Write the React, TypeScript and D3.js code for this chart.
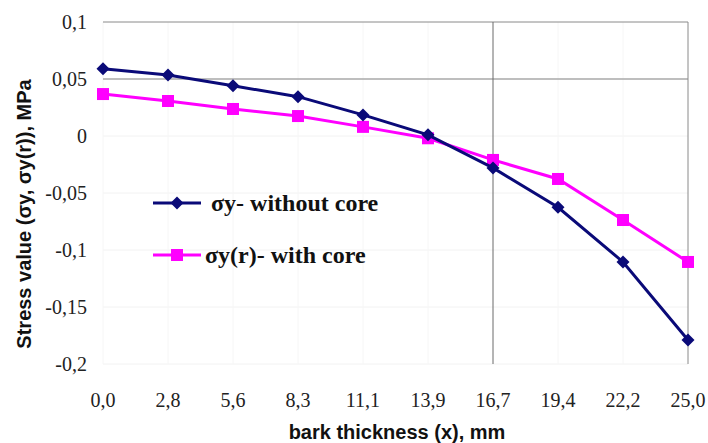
import React from "react";
import * as d3 from "d3";

const categories = ["0,0", "2,8", "5,6", "8,3", "11,1", "13,9", "16,7", "19,4", "22,2", "25,0"];
const withoutCore = [0.059, 0.0535, 0.044, 0.0345, 0.0185, 0.001, -0.028, -0.0625, -0.1105, -0.179];
const withCore = [0.0368, 0.0307, 0.0237, 0.0175, 0.008, -0.002, -0.021, -0.0377, -0.0737, -0.1105];
const yTicks = [0.1, 0.05, 0, -0.05, -0.1, -0.15, -0.2];
const yTickLabels = ["0,1", "0,05", "0", "-0,05", "-0,1", "-0,15", "-0,2"];
const seriesNames = ["σy- without core", "σy(r)- with core"];

const W = 708, H = 443;
const left = 103, right = 688, top = 22, bottom = 364;

export default function App() {
  const x = d3.scalePoint<string>().domain(categories).range([left, right]);
  const y = d3.scaleLinear().domain([-0.2, 0.1]).range([bottom, top]);
  const line = d3.line<number>().x((_, i) => x(categories[i])!).y((d) => y(d));
  const diamond = "M0,-6.5L6.5,0L0,6.5L-6.5,0Z";
  const navy = "#0a0a78";
  const magenta = "#ff00ff";
  const serif = "'Liberation Serif', 'Times New Roman', serif";
  const sans = "'Liberation Sans', Arial, sans-serif";

  return (
    <svg width={W} height={H} style={{ position: "absolute", left: 0, top: 0, background: "#fff" }}>
      {/* faint gridlines */}
      {yTicks.filter((t) => t < 0.05).map((t) => (
        <line key={"fg" + t} x1={left} x2={right} y1={y(t)} y2={y(t)} stroke="#f2f2f2" strokeWidth={1} />
      ))}
      {categories.filter((c) => c !== "16,7" && c !== "25,0").map((c) => (
        <line key={"fv" + c} x1={x(c)} x2={x(c)} y1={top} y2={bottom} stroke="#f6f6f6" strokeWidth={1} />
      ))}
      {/* main gridlines */}
      <line x1={left} x2={right} y1={y(0.1)} y2={y(0.1)} stroke="#8a8a8a" strokeWidth={1} />
      <line x1={left} x2={right} y1={y(0.05)} y2={y(0.05)} stroke="#a8a8a8" strokeWidth={1.5} />
      <line x1={x("16,7")} x2={x("16,7")} y1={top} y2={bottom} stroke="#6a6a6a" strokeWidth={1} />
      <line x1={x("25,0")} x2={x("25,0")} y1={top} y2={bottom} stroke="#8a8a8a" strokeWidth={1} />

      {/* y tick labels */}
      {yTicks.map((t, i) => (
        <text key={"yt" + t} x={87} y={y(t)} dy="0.35em" textAnchor="end"
          fontFamily={serif} fontSize={20} fill="#222">
          {yTickLabels[i]}
        </text>
      ))}
      {/* x tick labels */}
      {categories.map((c) => (
        <text key={"xt" + c} x={x(c)} y={407} textAnchor="middle"
          fontFamily={serif} fontSize={20} fill="#222">
          {c}
        </text>
      ))}
      {/* axis titles */}
      <text x={397} y={439} textAnchor="middle" fontFamily={sans}
        fontWeight="bold" fontSize={20} fill="#111">bark thickness (x), mm</text>
      <text transform={`translate(31,214) rotate(-90)`} textAnchor="middle"
        fontFamily={sans} fontWeight="bold" fontSize={20} fill="#111">
        Stress value (σy, σy(r)), MPa
      </text>

      {/* series */}
      <path d={line(withCore)!} fill="none" stroke={magenta} strokeWidth={3} />
      {withCore.map((v, i) => (
        <rect key={"m" + i} x={x(categories[i])! - 6} y={y(v) - 6} width={12} height={12} fill={magenta} />
      ))}
      <path d={line(withoutCore)!} fill="none" stroke={navy} strokeWidth={3} />
      {withoutCore.map((v, i) => (
        <path key={"d" + i} d={diamond} transform={`translate(${x(categories[i])},${y(v)})`} fill={navy} />
      ))}

      {/* legend */}
      <line x1={153} x2={201} y1={203} y2={203} stroke={navy} strokeWidth={3} />
      <path d={diamond} transform="translate(177,203)" fill={navy} />
      <text x={211} y={203} dy="0.33em" fontFamily={serif}
        fontWeight="bold" fontSize={24} fill="#111">{seriesNames[0]}</text>
      <line x1={153} x2={201} y1={255} y2={255} stroke={magenta} strokeWidth={3} />
      <rect x={171} y={249} width={12} height={12} fill={magenta} />
      <text x={205} y={255} dy="0.33em" fontFamily={serif}
        fontWeight="bold" fontSize={24} fill="#111">{seriesNames[1]}</text>
    </svg>
  );
}
